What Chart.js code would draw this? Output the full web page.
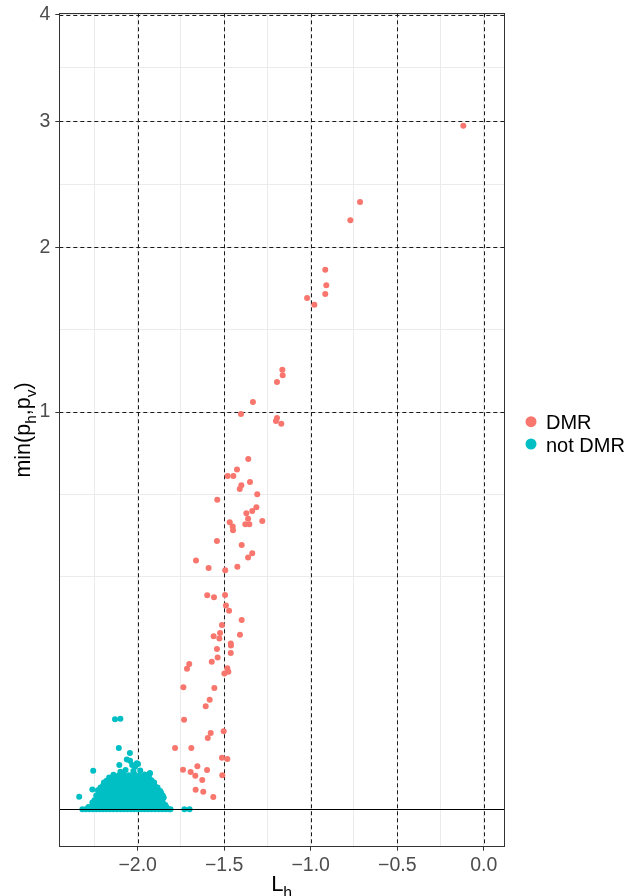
<!DOCTYPE html>
<html>
<head>
<meta charset="utf-8">
<script src="https://cdn.jsdelivr.net/npm/chart.js@4/dist/chart.umd.min.js"></script>
<style>
  html, body { margin: 0; padding: 0; background: #fff; }
  #wrap { width: 643px; height: 896px; }
</style>
</head>
<body>
<div id="wrap"><canvas id="dmr-chart" width="643" height="896"></canvas></div>
<script>
// ---- data (L_h vs min(p_h, p_v)) ----
const dmrX = [-0.118,-0.715,-0.771,-0.916,-0.910,-0.916,-1.021,-0.979,-1.164,-1.162,-1.195,-1.334,-1.403,-1.195,-1.201,-1.170,
  -1.361,-1.426,-1.480,-1.447,-1.351,-1.401,-1.410,-1.309,-1.540,-1.314,-1.338,-1.372,-1.362,-1.280,-1.468,-1.451,-1.378,-1.355,
  -1.449,-1.542,-1.399,-1.338,-1.362,-1.663,-1.590,-1.424,-1.494,-1.598,-1.559,-1.495,-1.490,-1.472,-1.399,-1.513,-1.524,-1.409,
  -1.561,-1.528,-1.462,-1.461,-1.542,-1.462,-1.538,-1.572,-1.702,-1.715,-1.482,-1.476,-1.499,-1.736,-1.557,-1.584,-1.607,-1.732,
  -1.503,-1.578,-1.595,-1.784,-1.690,-1.513,-1.482,-1.655,-1.738,-1.599,-1.694,-1.667,-1.511,-1.627,-1.665,-1.621,-1.563];
const dmrY = [2.960,2.337,2.198,1.845,1.740,1.682,1.656,1.613,1.224,1.193,1.157,1.051,0.990,0.970,0.955,0.942,
  0.777,0.731,0.704,0.704,0.679,0.665,0.650,0.629,0.607,0.578,0.564,0.555,0.535,0.527,0.522,0.507,0.515,0.515,
  0.493,0.456,0.443,0.415,0.402,0.392,0.369,0.373,0.362,0.290,0.285,0.291,0.263,0.250,0.227,0.215,0.197,0.193,
  0.190,0.185,0.174,0.170,0.163,0.155,0.146,0.138,0.134,0.125,0.126,0.120,0.117,0.0943,0.0932,0.0761,0.0672,0.0509,
  0.0385,0.0369,0.0322,0.0238,0.0238,0.0169,0.0160,0.0117,0.00994,0.00978,0.00881,0.00715,0.00732,0.00544,0.00243,0.00196,0.00096];

const notDmrX = [
  -2.32,-2.30,-2.28,-2.26,-2.24,-2.22,-2.20,-2.18,-2.16,-2.14,-2.12,-2.10,-2.08,-2.06,-2.04,-2.02,-2.00,-1.98,-1.96,-1.94,-1.92,-1.90,-1.88,-1.86,-1.84,-1.82,-1.81,-1.73,-1.70,
  -2.285,-2.255,-2.225,-2.195,-2.165,-2.135,-2.105,-2.075,-2.045,-2.015,-1.985,-1.955,-1.925,-1.895,-1.865,-1.835,
  -2.26,-2.23,-2.20,-2.17,-2.14,-2.11,-2.08,-2.05,-2.02,-1.99,-1.96,-1.93,-1.90,-1.87,-1.84,
  -2.245,-2.215,-2.185,-2.155,-2.125,-2.095,-2.065,-2.035,-2.005,-1.975,-1.945,-1.915,-1.885,-1.855,
  -2.25,-2.22,-2.19,-2.16,-2.13,-2.10,-2.07,-2.04,-2.01,-1.98,-1.95,-1.92,-1.89,-1.86,
  -2.235,-2.205,-2.175,-2.145,-2.115,-2.085,-2.055,-2.025,-1.995,-1.965,-1.935,-1.905,-1.875,-1.85,
  -2.24,-2.21,-2.18,-2.15,-2.12,-2.09,-2.06,-2.03,-2.00,-1.97,-1.94,-1.91,-1.88,-1.855,
  -2.225,-2.195,-2.165,-2.135,-2.105,-2.075,-2.045,-2.015,-1.985,-1.955,-1.925,-1.895,-1.87,
  -2.23,-2.20,-2.17,-2.14,-2.11,-2.08,-2.05,-2.02,-1.99,-1.96,-1.93,-1.90,-1.87,
  -2.215,-2.185,-2.155,-2.125,-2.095,-2.065,-2.035,-2.005,-1.975,-1.945,-1.915,-1.885,
  -2.20,-2.17,-2.14,-2.11,-2.08,-2.05,-2.02,-1.99,-1.96,-1.93,-1.90,
  -2.195,-2.165,-2.135,-2.105,-2.075,-2.045,-2.015,-1.985,-1.955,-1.925,-1.905,
  -2.18,-2.15,-2.12,-2.09,-2.06,-2.03,-2.00,-1.97,-1.94,-1.92,
  -2.165,-2.135,-2.105,-2.075,-2.045,-2.015,-1.985,-1.955,-1.935,
  -2.14,-2.11,-2.08,-2.05,-2.02,-1.99,-1.96,-1.93,
  -2.131,-2.100,-2.109,-2.045,-2.063,-2.044,-2.005,-2.015,-2.106,-2.032,-2.025,-2.257,-2.262,-2.338,-2.262,
  -1.998,-1.929,-1.865,-1.852,-2.070,-2.100,-1.985];
const notDmrY = [
  0,0,0,0,0,0,0,0,0,0,0,0,0,0,0,0,0,0,0,0,0,0,0,0,0,0,0,0,0,
  0.000034,0.000030,0.000038,0.000033,0.000036,0.000031,0.000035,0.000034,0.000032,0.000037,0.000033,0.000035,0.000030,0.000036,0.000034,0.000032,
  0.00012,0.00010,0.00015,0.00011,0.00013,0.00009,0.00014,0.00012,0.00010,0.00016,0.00011,0.00013,0.00010,0.00015,0.00012,
  0.00029,0.00031,0.00027,0.00030,0.00028,0.00032,0.00029,0.00026,0.00030,0.00031,0.00028,0.00029,0.00027,0.00030,
  0.00052,0.00060,0.00049,0.00057,0.00054,0.00062,0.00050,0.00058,0.00055,0.00051,0.00061,0.00053,0.00056,0.00048,
  0.00088,0.00085,0.00091,0.00087,0.00090,0.00084,0.00089,0.00092,0.00086,0.00088,0.00090,0.00085,0.00087,0.00089,
  0.0012,0.0014,0.0013,0.0011,0.0015,0.0013,0.0012,0.0014,0.0013,0.0012,0.0014,0.0011,0.0013,0.0012,
  0.00179,0.00175,0.00183,0.00178,0.00181,0.00176,0.00184,0.00179,0.00177,0.00182,0.00178,0.00180,0.00174,
  0.0023,0.0025,0.0022,0.0026,0.0024,0.0023,0.0025,0.0024,0.0022,0.0026,0.0023,0.0025,0.0021,
  0.00301,0.00296,0.00306,0.00299,0.00304,0.00298,0.00303,0.00300,0.00295,0.00305,0.00299,0.00302,
  0.0036,0.0039,0.0035,0.0038,0.0037,0.0040,0.0036,0.0038,0.0035,0.0039,0.0034,
  0.00455,0.00448,0.00462,0.00451,0.00458,0.00447,0.00460,0.00453,0.00449,0.00457,0.00452,
  0.0052,0.0056,0.0054,0.0058,0.0053,0.0057,0.0055,0.0052,0.0056,0.0054,
  0.0064,0.0062,0.0066,0.0063,0.0067,0.0061,0.0065,0.0063,0.0066,
  0.0076,0.0072,0.0078,0.0074,0.0079,0.0073,0.0077,0.0082,
  0.0513,0.0520,0.0238,0.0201,0.0158,0.0150,0.0134,0.0115,0.0124,0.0124,0.0093,0.0094,0.0025,0.0010,0.0003,
  0.0130,0.0082,0.0018,0.0008,0.0098,0.0090,0.0095];

// axis breaks (major get labels + dashed lines, minor only faint grid)
const xMajor = [-2.0, -1.5, -1.0, -0.5, 0.0];
const xMinor = [-2.25, -1.75, -1.25, -0.75, -0.25];
const yMajor = [1, 2, 3, 4];
const yMinor = [0.343, 0.629, 1.457, 2.474, 3.482];

const FONT = "'Liberation Sans', Arial, sans-serif";
const RED = '#F8766D', TEAL = '#00BFC4';

// square-root y scale (like scale_y_sqrt)
const sgnSqrt = v => Math.sign(v) * Math.sqrt(Math.abs(v));
class SqrtScale extends Chart.LinearScale {
  getPixelForValue(value) {
    const a = sgnSqrt(this.min), b = sgnSqrt(this.max);
    return this.getPixelForDecimal((sgnSqrt(value) - a) / (b - a));
  }
  getValueForPixel(pixel) {
    const a = sgnSqrt(this.min), b = sgnSqrt(this.max);
    const s = a + this.getDecimalForPixel(pixel) * (b - a);
    return Math.sign(s) * s * s;
  }
}
SqrtScale.id = 'sqrt';
SqrtScale.defaults = Chart.LinearScale.defaults;
Chart.register(SqrtScale);

function drawRich(ctx, parts, size) {
  const sub = size * 0.72;
  let w = 0;
  parts.forEach(([t, s]) => { ctx.font = `${s ? sub : size}px ${FONT}`; w += ctx.measureText(t).width; });
  let cx = -w / 2;
  parts.forEach(([t, s]) => {
    ctx.font = `${s ? sub : size}px ${FONT}`;
    ctx.fillText(t, cx, s ? size * 0.3 : 0);
    cx += ctx.measureText(t).width;
  });
}

const decorations = {
  id: 'decorations',
  beforeDatasetsDraw(chart) {
    const {ctx, chartArea: a, scales: {x, y}} = chart;
    ctx.save();
    ctx.strokeStyle = '#1a1a1a';
    ctx.lineWidth = 1;
    ctx.setLineDash([4, 3]);
    xMajor.forEach(v => {
      const px = Math.round(x.getPixelForValue(v)) + 0.5;
      ctx.beginPath(); ctx.moveTo(px, a.top); ctx.lineTo(px, a.bottom); ctx.stroke();
    });
    yMajor.forEach(v => {
      const py = Math.round(y.getPixelForValue(v)) + 0.5;
      ctx.beginPath(); ctx.moveTo(a.left, py); ctx.lineTo(a.right, py); ctx.stroke();
    });
    ctx.restore();
  },
  afterDatasetsDraw(chart) {
    const {ctx, chartArea: a, scales: {y}} = chart;
    ctx.save();
    ctx.strokeStyle = '#000';
    ctx.lineWidth = 1;
    const py = Math.round(y.getPixelForValue(0)) + 0.5;
    ctx.beginPath(); ctx.moveTo(a.left, py); ctx.lineTo(a.right, py); ctx.stroke();
    ctx.strokeStyle = '#333';
    ctx.strokeRect(Math.round(a.left) + 0.5, Math.round(a.top) + 0.5,
      Math.round(a.right - a.left), Math.round(a.bottom - a.top));
    ctx.restore();
  },
  afterDraw(chart) {
    const {ctx, chartArea: a} = chart;
    ctx.save();
    ctx.fillStyle = '#000';
    ctx.textBaseline = 'alphabetic';
    ctx.textAlign = 'left';
    // x title
    ctx.save();
    ctx.translate((a.left + a.right) / 2, 891);
    drawRich(ctx, [['L', false], ['h', true]], 22);
    ctx.restore();
    // y title
    ctx.save();
    ctx.translate(30, (a.top + a.bottom) / 2);
    ctx.rotate(-Math.PI / 2);
    drawRich(ctx, [['min(p', false], ['h', true], [',p', false], ['v', true], [')', false]], 21.5);
    ctx.restore();
    // legend
    chart.data.datasets.forEach((ds, i) => {
      const cy = 421.7 + i * 22.3;
      ctx.fillStyle = ds.backgroundColor;
      ctx.beginPath(); ctx.arc(531, cy, 5.5, 0, Math.PI * 2); ctx.fill();
      ctx.fillStyle = '#000';
      ctx.font = `20px ${FONT}`;
      ctx.fillText(ds.label, 546, cy + 7.5);
    });
    ctx.restore();
  }
};

const toPoints = (xs, ys) => xs.map((v, i) => ({x: v, y: ys[i]}));
const gridColor = () => '#EBEBEB';
const noScalePadding = s => { s.paddingTop = 0; s.paddingBottom = 0; s.paddingLeft = 0; s.paddingRight = 0; };

new Chart(document.getElementById('dmr-chart'), {
  type: 'scatter',
  data: {
    datasets: [
      { label: 'DMR', data: toPoints(dmrX, dmrY), backgroundColor: RED, borderWidth: 0, pointRadius: 3, pointHoverRadius: 3 },
      { label: 'not DMR', data: toPoints(notDmrX, notDmrY), backgroundColor: TEAL, borderWidth: 0, pointRadius: 3, pointHoverRadius: 3 }
    ]
  },
  plugins: [decorations],
  options: {
    responsive: false,
    animation: false,
    events: [],
    layout: { padding: { left: 0, right: 139, top: 13.3, bottom: 0 } },
    plugins: { legend: { display: false }, tooltip: { enabled: false } },
    scales: {
      x: {
        type: 'linear',
        min: -2.453, max: 0.117,
        bounds: 'data',
        afterBuildTicks: s => { s.ticks = [...xMinor, ...xMajor].sort((p, q) => p - q).map(v => ({value: v})); },
        afterFit: s => { s.height = 49.3; noScalePadding(s); },
        border: { display: false },
        grid: {
          color: gridColor,
          lineWidth: 1,
          tickLength: 4,
          tickColor: c => xMajor.includes(c.tick.value) ? '#333' : 'rgba(0,0,0,0)'
        },
        ticks: {
          autoSkip: false, maxRotation: 0, padding: 3,
          color: '#4D4D4D', font: { family: FONT, size: 19.5 },
          callback: v => xMajor.includes(v) ? (v === 0 ? '0.0' : '\u2212' + Math.abs(v).toFixed(1)) : ''
        }
      },
      y: {
        type: 'sqrt',
        min: -0.00885, max: 4.014,
        bounds: 'data',
        afterBuildTicks: s => { s.ticks = [...yMinor, ...yMajor].sort((p, q) => p - q).map(v => ({value: v})); },
        afterFit: s => { s.width = 59.3; noScalePadding(s); },
        border: { display: false },
        grid: {
          color: gridColor,
          lineWidth: 1,
          tickLength: 4,
          tickColor: c => yMajor.includes(c.tick.value) ? '#333' : 'rgba(0,0,0,0)'
        },
        ticks: {
          autoSkip: false, padding: 5,
          color: '#4D4D4D', font: { family: FONT, size: 19.5 },
          callback: v => yMajor.includes(v) ? String(v) : ''
        }
      }
    }
  }
});
</script>
</body>
</html>
